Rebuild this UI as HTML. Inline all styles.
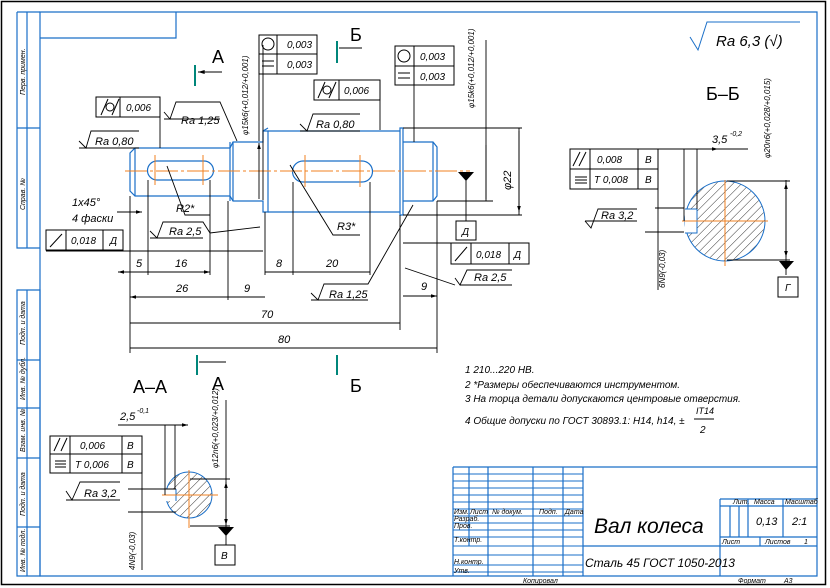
<!DOCTYPE html>
<html><head><meta charset="utf-8"><style>
html,body{margin:0;padding:0;background:#fff}
svg{display:block}
text{font-family:"Liberation Sans",sans-serif;font-style:italic;fill:#000}
</style></head><body>
<svg width="830" height="588" viewBox="0 0 830 588" xmlns="http://www.w3.org/2000/svg">
<defs>
<marker id="a" viewBox="0 0 10 6" refX="10" refY="3" markerWidth="8" markerHeight="4" orient="auto-start-reverse"><path d="M0,0L10,3L0,6z" fill="#000"/></marker>
<pattern id="h" patternUnits="userSpaceOnUse" width="6" height="6" patternTransform="rotate(45)"><line x1="0" y1="0" x2="0" y2="6" stroke="#000" stroke-width="0.8"/></pattern>
</defs>
<rect x="1.5" y="1.5" width="824" height="583" fill="none" stroke="#000" stroke-width="1.5"/>
<g stroke="#1a6fc8" stroke-width="1.2" fill="none">
<path d="M40,12H817V576H40Z"/>
<path d="M17,12H40M17,12V248H40M27,12V248M17,128H40"/>
<path d="M17,290H40V576H17ZM27,290V576M17,360H40M17,408H40M17,458H40M17,527H40"/>
<path d="M40,38H176V12"/>
<path d="M453,467H817M453,467V576M469,467V546M488,467V576M533,467V576M563,467V576M583,467V576M720,499V576"/>
<path d="M453,474H583M453,481H583M453,488H583M453,495H583M453,502H583M453,509H583M453,516H583M453,523H583M453,530H583M453,537H583M453,546H583M453,555H583M453,565H583M453,572H583" stroke-width="1"/>
<path d="M583,546H817M720,499H817M720,506H817M720,537H817M748,499V537M783,499V537M730,506V537M739,506V537M760,537V546"/>
</g>
<g font-size="7">
<text transform="translate(25,95) rotate(-90)">Перв. примен.</text>
<text transform="translate(25,210) rotate(-90)">Справ. №</text>
<text transform="translate(25,345) rotate(-90)">Подп. и дата</text>
<text transform="translate(25,400) rotate(-90)">Инв. № дубл.</text>
<text transform="translate(25,452) rotate(-90)">Взам. инв. №</text>
<text transform="translate(25,516) rotate(-90)">Подп. и дата</text>
<text transform="translate(25,572) rotate(-90)">Инв. № подл.</text>
<text x="454" y="514">Изм.</text><text x="470" y="514">Лист</text><text x="492" y="514">№ докум.</text><text x="539" y="514">Подп.</text><text x="565" y="514">Дата</text>
<text x="454" y="521">Разраб.</text><text x="454" y="528">Пров.</text><text x="454" y="542">Т.контр.</text><text x="454" y="564">Н.контр.</text><text x="454" y="573">Утв.</text>
<text x="733" y="504">Лит.</text><text x="754" y="504">Масса</text><text x="785" y="504">Масштаб</text>
<text x="722" y="544">Лист</text><text x="765" y="544">Листов</text><text x="804" y="544">1</text>
<text x="523" y="583">Копировал</text><text x="738" y="583">Формат</text><text x="784" y="583">А3</text>
</g>
<text x="756" y="525" font-size="11">0,13</text><text x="792" y="525" font-size="11">2:1</text>
<text x="594" y="533" font-size="21">Вал колеса</text>
<text x="585" y="567" font-size="12">Сталь 45 ГОСТ 1050-2013</text>
<g font-size="10">
<text x="465" y="373">1 210...220 HB.</text>
<text x="465" y="388">2 *Размеры обеспечиваются инструментом.</text>
<text x="465" y="402">3 На торца детали допускаются центровые отверстия.</text>
<text x="465" y="424">4 Общие допуски по ГОСТ 30893.1: H14, h14, ±</text>
<text x="696" y="414" font-size="9">IT14</text><text x="700" y="433">2</text>
</g>
<line x1="694" y1="419" x2="714" y2="419" stroke="#000"/>
<path d="M690,37L698,50L707,22H800" stroke="#1a6fc8" fill="none"/>
<text x="716" y="46" font-size="15">Ra 6,3 (√)</text>
<g stroke="#1a6fc8" stroke-width="1.2" fill="none">
<path d="M135,148H230L233,142H263V131H268V212H263V201H233L230,196H135L130,191V153Z"/>
<path d="M135,148V196M230,142V201M233,142V201"/>
<path d="M268,131H400V212H268M263,131L268,128M400,128V215H403V128ZM403,142H433L437,147V196L433,201H403M433,142V201"/>
<path d="M157,161H204A9,9 0 0 1 204,180H157A9,9 0 0 1 157,161Z"/>
<path d="M303,161H362A10,10 0 0 1 362,182H303A10,10 0 0 1 303,161Z"/>
</g>
<g stroke="#f08020" stroke-width="1" fill="none">
<path d="M125,171H470" stroke-dasharray="22,3,3,3"/>
<path d="M155,155V185M203,155V185M305,155V187M360,155V187"/>
</g>
<g stroke="#00867a" stroke-width="2"><path d="M195,65V86M337,41V63M197,355V375M337,355V375"/></g>
<g stroke="#000" fill="none">
<path d="M198,72H222M339,48H362M199,362H226" marker-start="url(#a)"/>
</g>
<text x="212" y="63" font-size="18" style="font-style:normal">А</text>
<text x="350" y="41" font-size="18" style="font-style:normal">Б</text>
<text x="212" y="390" font-size="18" style="font-style:normal">А</text>
<text x="350" y="392" font-size="18" style="font-style:normal">Б</text>
<text x="133" y="393" font-size="18" style="font-style:normal">А–А</text>
<text x="706" y="100" font-size="18" style="font-style:normal">Б–Б</text>
<g stroke="#000" fill="none">
<path d="M259,35H317V74H259ZM259,54H317M277,35V74"/>
<circle cx="268" cy="44" r="6"/><path d="M262,61H274M262,66H274"/>
<path d="M395,46H454V85H395ZM395,66H454M414,46V85"/>
<circle cx="404" cy="56" r="6"/><path d="M398,73H410M398,78H410"/>
<path d="M96,97H160V117H96ZM120,97V117"/>
<path d="M101,115L108,99M112,115L119,99"/><circle cx="110" cy="107" r="4"/>
<path d="M314,80H380V100H314ZM339,80V100"/>
<path d="M318,98L325,82M329,98L336,82"/><circle cx="327" cy="90" r="4"/>
<path d="M46,230H123V250H46ZM66,230V250M103,230V250M50,247L62,234"/>
<path d="M451,243H529V264H451ZM471,243V264M509,243V264M455,261L467,247"/>
<path d="M456,221H476V240H456Z"/>
<path d="M778,277H798V297H778Z"/>
<path d="M215,545H235V565H215Z"/>
<path d="M570,149H658V189H570ZM570,169H658M590,149V189M638,149V189M573,166L580,152M579,166L586,152M575,177H587M575,180H587M575,183H587"/>
<path d="M50,436H142V473H50ZM50,454H142M70,436V473M122,436V473M54,451L60,438M61,451L67,438M55,461H66M55,464H66M55,467H66"/>
</g>
<g font-size="10">
<text x="287" y="48">0,003</text><text x="287" y="68">0,003</text>
<text x="420" y="60">0,003</text><text x="420" y="80">0,003</text>
<text x="126" y="111">0,006</text><text x="344" y="94">0,006</text>
<text x="71" y="244">0,018</text><text x="110" y="244">Д</text>
<text x="476" y="258">0,018</text><text x="514" y="258">Д</text>
<text x="462" y="235">Д</text><text x="785" y="291">Г</text><text x="221" y="559">В</text>
<text x="597" y="163">0,008</text><text x="645" y="163">В</text>
<text x="594" y="183">Т 0,008</text><text x="645" y="183">В</text>
<text x="80" y="449">0,006</text><text x="127" y="449">В</text>
<text x="75" y="468">Т 0,006</text><text x="127" y="468">В</text>
</g>
<g stroke="#000" fill="none" stroke-width="0.9">
<path d="M160,107V148M380,100V130M259,74V141M414,85V142"/>
<path d="M79,148H139M79,141L86,148L91,131H139"/>
<path d="M164,119H220M164,112L170,119L176,102H220L237,141"/>
<path d="M300,131H360M300,124L307,131L313,114H360"/>
<path d="M150,238H203M150,231L157,238L163,222H203L210,233L260,227"/>
<path d="M311,300H368M311,293L318,300L324,284H368L413,205"/>
<path d="M460,285H512M455,278L460,285L467,270H512"/>
<path d="M455,285L405,268M403,243H453"/>
<path d="M46,251H263"/>
<path d="M167,166L185,215H210M290,165L333,235H360"/>
<path d="M130,196V353M148,180V275M210,180V275M228,201V300M265,212V275M293,182V275M370,182V275M400,215V330M437,201V353"/>
<path d="M263,45V200M486,40V201M403,128H522M437,201H493M403,215H522M466,172V221M519,128V215"/>
</g>
<g stroke="#000" fill="none" stroke-width="0.9">
<path d="M118,272H210" marker-start="url(#a)" marker-end="url(#a)"/>
<path d="M130,297H228M228,297H265M130,323H400M130,348H437M265,272H293M293,272H370M403,296H437" marker-start="url(#a)" marker-end="url(#a)"/>
<path d="M259,143V199M486,145V199M519,131V212" marker-start="url(#a)" marker-end="url(#a)"/>
<path d="M117,212H142" marker-end="url(#a)"/>
</g>
<path d="M458,172H474L466,181Z" fill="#000"/>
<g font-size="11">
<text x="136" y="267">5</text><text x="175" y="267">16</text><text x="176" y="292">26</text><text x="244" y="292">9</text>
<text x="276" y="267">8</text><text x="326" y="267">20</text><text x="261" y="318">70</text><text x="278" y="343">80</text><text x="421" y="290">9</text>
<text x="176" y="212">R2*</text><text x="337" y="230">R3*</text>
<text x="72" y="206">1x45°</text><text x="72" y="222">4 фаски</text>
<text x="95" y="145">Ra 0,80</text><text x="181" y="124">Ra 1,25</text><text x="316" y="128">Ra 0,80</text>
<text x="169" y="235">Ra 2,5</text><text x="329" y="298">Ra 1,25</text><text x="474" y="281">Ra 2,5</text>
<text transform="translate(511,190) rotate(-90)">φ22</text>
</g>
<g font-size="8">
<text transform="translate(248,135) rotate(-90)">φ15k6(+0,012/+0,001)</text>
<text transform="translate(474,108) rotate(-90)">φ15k6(+0,012/+0,001)</text>
<text transform="translate(770,158) rotate(-90)">φ20n6(+0,028/+0,015)</text>
<text transform="translate(218,468) rotate(-90)">φ12n6(+0,023/+0,012)</text>
<text transform="translate(665,288) rotate(-90)">6N9(-0,03)</text>
<text transform="translate(135,570) rotate(-90)">4N9(-0,03)</text>
</g>
<circle cx="725" cy="221" r="40" fill="url(#h)" stroke="#1a6fc8"/>
<rect x="685" y="209" width="12" height="24" fill="#fff"/>
<path d="M697,209H685M697,209V233H685" stroke="#1a6fc8" fill="none"/>
<g stroke="#f08020"><path d="M682,221H768M725,180V266"/></g>
<g stroke="#000" fill="none" stroke-width="0.9">
<path d="M658,149V290M684,149V221M697,149V209M645,149H748M655,208H684M645,232H684M786,180V275M727,181H790M727,260H790"/>
<path d="M643,149H684M697,149H718" marker-end="url(#a)"/>
<path d="M786,183V257" marker-start="url(#a)" marker-end="url(#a)"/>
<path d="M585,221H637M585,221L591,228L598,209H637"/>
</g>
<path d="M779,261H794L786,270Z" fill="#000"/>
<text x="601" y="219" font-size="11">Ra 3,2</text>
<text x="712" y="143" font-size="11">3,5</text><text x="730" y="136" font-size="7">-0,2</text>
<circle cx="189" cy="495" r="23" fill="url(#h)" stroke="#1a6fc8"/>
<rect x="164" y="489" width="12" height="12" fill="#fff"/>
<path d="M176,489V501" stroke="#1a6fc8"/>
<g stroke="#f08020"><path d="M162,495H218M189,470V528"/></g>
<g stroke="#000" fill="none" stroke-width="0.9">
<path d="M142,437V570M165,425V495M175,425V489M118,425H188M128,489H176M128,512H176M226,400V545M190,479H230M190,526H230"/>
<path d="M155,425H165M175,425H188" marker-end="url(#a)"/>
<path d="M226,482V525" marker-start="url(#a)" marker-end="url(#a)"/>
<path d="M66,500H120M66,491L72,500L80,482H120"/>
</g>
<path d="M218,527H234L226,536Z" fill="#000"/>
<text x="84" y="497" font-size="11">Ra 3,2</text>
<text x="120" y="420" font-size="11">2,5</text><text x="137" y="413" font-size="7">-0,1</text>
</svg>
</body></html>
